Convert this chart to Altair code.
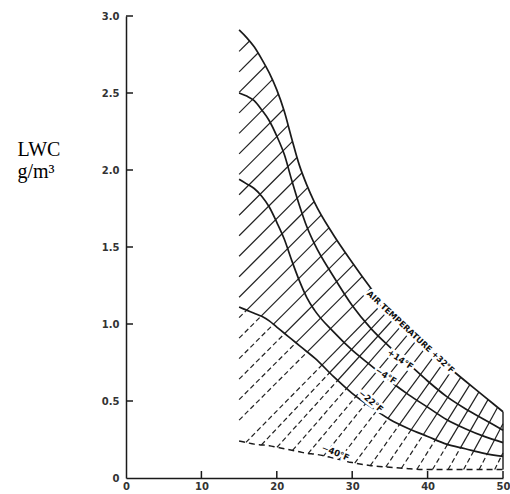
import numpy as np
import pandas as pd
import altair as alt

# ---------------- data ----------------
diam = [15, 16, 17, 18, 19, 20, 21, 22, 23, 24, 25, 27.5, 30, 32.5, 35, 37.5, 40, 42.5, 45, 47.5, 50]
lwc_p32 = [2.91, 2.86, 2.80, 2.72, 2.63, 2.52, 2.38, 2.20, 2.03, 1.90, 1.79, 1.58, 1.40, 1.23, 1.07, 0.94, 0.83, 0.73, 0.63, 0.53, 0.43]
lwc_p14 = [2.50, 2.48, 2.45, 2.39, 2.32, 2.22, 2.10, 1.93, 1.77, 1.63, 1.52, 1.31, 1.12, 0.97, 0.85, 0.74, 0.63, 0.53, 0.45, 0.38, 0.31]
lwc_m4 = [1.94, 1.91, 1.88, 1.83, 1.76, 1.66, 1.55, 1.41, 1.28, 1.17, 1.09, 0.95, 0.83, 0.73, 0.63, 0.54, 0.46, 0.38, 0.32, 0.27, 0.23]
lwc_m22 = [1.11, 1.09, 1.07, 1.05, 1.02, 0.98, 0.94, 0.90, 0.86, 0.82, 0.78, 0.66, 0.55, 0.46, 0.38, 0.32, 0.27, 0.22, 0.19, 0.16, 0.14]
lwc_m40 = [0.24, 0.23, 0.22, 0.215, 0.21, 0.20, 0.19, 0.18, 0.17, 0.16, 0.155, 0.13, 0.10, 0.08, 0.07, 0.06, 0.055, 0.055, 0.055, 0.055, 0.055]

x_ticks = [0, 10, 20, 30, 40, 50]
y_ticks = [0, 0.5, 1.0, 1.5, 2.0, 2.5, 3.0]

label_text = ["AIR TEMPERATURE +32°F", "+14°F", "−4°F", "−22°F", "−40°F"]
label_x = [37.7, 36.4, 34.5, 32.5, 27.8]
label_y = [0.945, 0.77, 0.665, 0.50, 0.165]
label_angle = [43, 34, 33, 40, 22]
label_size = [8.2, 8.5, 8.5, 8.5, 8.5]

# ---------------- layout ----------------
W, H = 377, 462
PX = W / 50.0
PY = H / 3.0
INK = "#1a1a1a"


def mono_tangents(xs, ys):
    xs = np.asarray(xs, float)
    ys = np.asarray(ys, float)
    n = len(xs)
    h = np.diff(xs)
    s = np.diff(ys) / h
    t = np.zeros(n)
    for i in range(1, n - 1):
        h0, h1, s0, s1 = h[i - 1], h[i], s[i - 1], s[i]
        p = (s0 * h1 + s1 * h0) / (h0 + h1)
        t[i] = (np.sign(s0) + np.sign(s1)) * min(abs(s0), abs(s1), 0.5 * abs(p))
    t[0] = (3 * s[0] - t[1]) / 2
    t[-1] = (3 * s[-1] - t[-2]) / 2
    return t


def mono_eval(xs, ys, t, xq):
    xs = np.asarray(xs, float)
    ys = np.asarray(ys, float)
    xq = np.asarray(xq, float)
    idx = np.clip(np.searchsorted(xs, xq, side="right") - 1, 0, len(xs) - 2)
    x0 = xs[idx]
    h = xs[idx + 1] - x0
    u = (xq - x0) / h
    m0 = t[idx] * h
    m1 = t[idx + 1] * h
    h00 = 2 * u**3 - 3 * u**2 + 1
    h10 = u**3 - 2 * u**2 + u
    h01 = -2 * u**3 + 3 * u**2
    h11 = u**3 - u**2
    return h00 * ys[idx] + h10 * m0 + h01 * ys[idx + 1] + h11 * m1


t32 = mono_tangents(diam, lwc_p32)
t22 = mono_tangents(diam, lwc_m22)
t40 = mono_tangents(diam, lwc_m40)

hi = lambda x: mono_eval(diam, lwc_p32, t32, x)
mid = lambda x: mono_eval(diam, lwc_m22, t22, x)
lo = lambda x: mono_eval(diam, lwc_m40, t40, x)

# hatch pattern (styling): feet on the left edge, then along the lower curve
feet = []
yy = 2.77
while yy > 0.30:
    feet.append((15.0, yy, 45.0))
    yy -= 0.133
for fx in np.linspace(15.9, 48.9, 17):
    feet.append((fx, float(lo(fx)), 45.0 + (fx - 15.0) * 0.55))

solid, dashed = [], []
tt = np.arange(0, 900, 0.25)
for fx, fy, ang in feet:
    a = np.radians(ang)
    xl = fx + tt * np.cos(a) / PX
    yl = fy + tt * np.sin(a) / PY
    inside = (xl >= 15 - 1e-9) & (xl <= 50 + 1e-9) & (yl >= lo(xl) - 2e-3) & (yl <= hi(xl))
    if not inside[0]:
        continue
    out = np.where(~inside)[0]
    end = (out[0] - 1) if len(out) else len(tt) - 1
    xs_, ys_ = xl[: end + 1], yl[: end + 1]
    d = ys_ - mid(xs_)
    if d[0] >= 0:
        solid.append((xs_[0], ys_[0], xs_[-1], ys_[-1]))
    else:
        up = np.where(d >= 0)[0]
        if len(up):
            k = up[0]
            dashed.append((xs_[0], ys_[0], xs_[k], ys_[k]))
            solid.append((xs_[k], ys_[k], xs_[-1], ys_[-1]))
        else:
            dashed.append((xs_[0], ys_[0], xs_[-1], ys_[-1]))

solid_df = pd.DataFrame(solid, columns=["x", "y", "x2", "y2"])
dashed_df = pd.DataFrame(dashed, columns=["x", "y", "x2", "y2"])

curves = []
for name, vals in [("+32", lwc_p32), ("+14", lwc_p14), ("-4", lwc_m4), ("-22", lwc_m22)]:
    for d, v in zip(diam, vals):
        curves.append({"x": d, "y": v, "t": name})
curves_df = pd.DataFrame(curves)
m40_df = pd.DataFrame({"x": diam, "y": lwc_m40})
edge_df = pd.DataFrame({"x": [diam[-1]], "y": [lwc_m40[-1]], "y2": [lwc_p32[-1]]})
lab_df = pd.DataFrame({"text": label_text, "x": label_x, "y": label_y,
                       "ang": label_angle, "fs": label_size})
ytick_df = pd.DataFrame({"y": y_ticks[1:]})
xtick_df = pd.DataFrame({"x": x_ticks[1:]})

xs = alt.Scale(domain=[0, 50], nice=False, zero=False)
ys = alt.Scale(domain=[0, 3], nice=False, zero=False)

x_axis = alt.Axis(values=x_ticks, title=None, ticks=False, tickSize=0, grid=False,
                  labelPadding=3, labelFlush=False, labelOverlap=False,
                  labelFont="DejaVu Sans", labelFontWeight="bold", labelFontSize=10,
                  labelColor="#333", domainColor=INK, domainWidth=1.5)
y_axis = alt.Axis(values=y_ticks, ticks=False, tickSize=0, grid=False,
                  labelPadding=7, labelFlush=False, labelOverlap=False,
                  labelExpr="datum.value == 0 ? '0' : format(datum.value, '.1f')",
                  labelFont="DejaVu Sans", labelFontWeight="bold", labelFontSize=10,
                  labelColor="#333", domainColor=INK, domainWidth=1.5,
                  title=["LWC", "g/m³"], titleAngle=0, titleAlign="left",
                  titleBaseline="alphabetic", titleX=-109, titleY=139,
                  titleFont="Liberation Serif", titleFontSize=20,
                  titleFontWeight="normal", titleColor="black", titleLineHeight=22)

X = alt.X("x:Q", scale=xs, axis=x_axis)
Y = alt.Y("y:Q", scale=ys, axis=y_axis)

hatch_solid = alt.Chart(solid_df).mark_rule(color="#222", strokeWidth=1.2).encode(
    x=X, y=Y, x2="x2:Q", y2="y2:Q")
hatch_dash = alt.Chart(dashed_df).mark_rule(color="#222", strokeWidth=1.2,
                                            strokeDash=[5, 3]).encode(
    x=X, y=Y, x2="x2:Q", y2="y2:Q")
edge = alt.Chart(edge_df).mark_rule(color=INK, strokeWidth=1.4).encode(x=X, y=Y, y2="y2:Q")
curve_lines = alt.Chart(curves_df).mark_line(color=INK, strokeWidth=1.7,
                                             interpolate="monotone").encode(
    x=X, y=Y, detail="t:N")
m40_line = alt.Chart(m40_df).mark_line(color=INK, strokeWidth=1.5, strokeDash=[6, 4],
                                       interpolate="monotone").encode(x=X, y=Y)
ytick = alt.Chart(ytick_df).mark_rule(color=INK, strokeWidth=1.5).encode(
    y=Y, x=alt.value(0), x2=alt.value(7))
xtick = alt.Chart(xtick_df).mark_rule(color=INK, strokeWidth=1.5).encode(
    x=X, y=alt.value(H), y2=alt.value(H - 7))

lab_enc = dict(x=X, y=Y, text="text:N", angle=alt.Angle("ang:Q", scale=None),
               size=alt.Size("fs:Q", scale=None))
halo = alt.Chart(lab_df).mark_text(font="DejaVu Sans", fontWeight="bold", fill="white",
                                   stroke="white", strokeWidth=5, align="center",
                                   baseline="middle").encode(**lab_enc)
labels = alt.Chart(lab_df).mark_text(font="DejaVu Sans", fontWeight="bold", fill="#111",
                                     align="center", baseline="middle").encode(**lab_enc)

chart = alt.layer(hatch_solid, hatch_dash, edge, curve_lines, m40_line, ytick, xtick,
                  halo, labels).properties(
    width=W, height=H,
    autosize=alt.AutoSizeParams(type="none"),
    padding={"left": 126, "top": 16, "right": 7, "bottom": 16},
    background="white",
).configure_view(stroke=None)

chart.save("out.html", embed_options={"renderer": "svg", "actions": False})
